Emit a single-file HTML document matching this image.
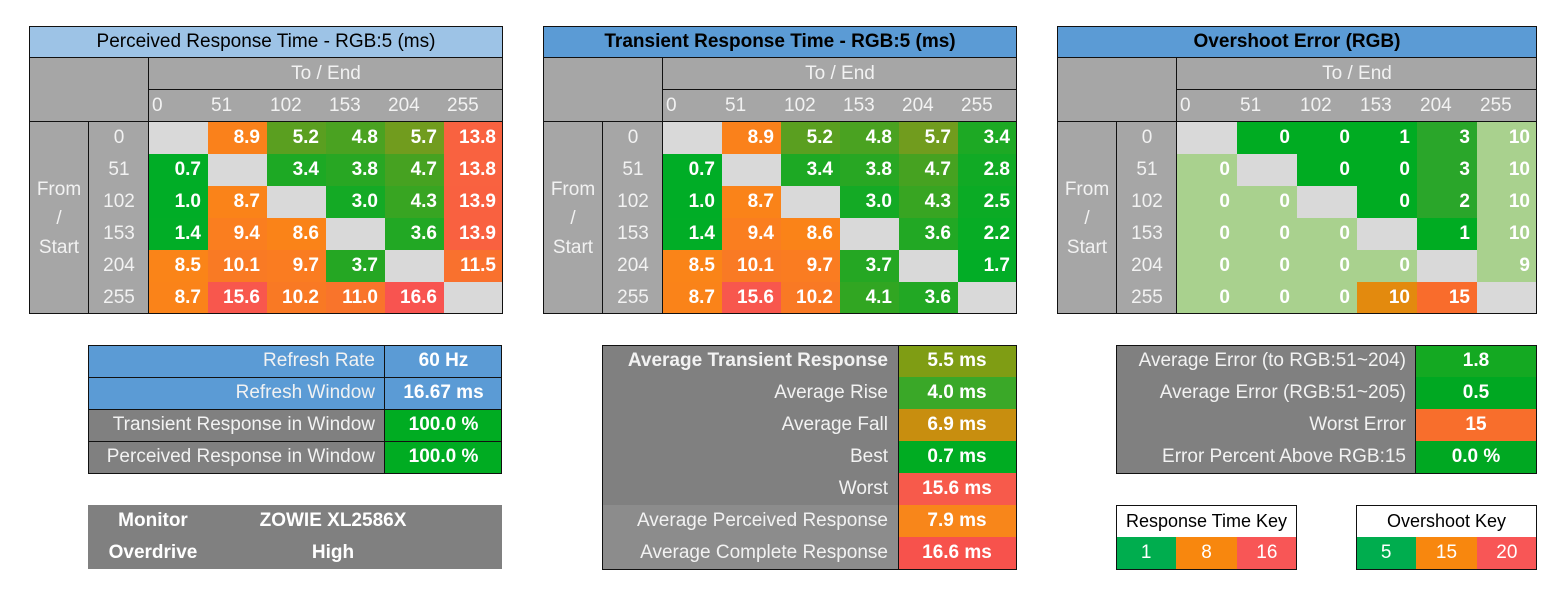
<!DOCTYPE html>
<html><head><meta charset="utf-8"><style>
body{margin:0;width:1563px;height:605px;background:#fff;position:relative;overflow:hidden;font-family:"Liberation Sans","Noto Sans CJK JP",sans-serif;}
.c{position:absolute;box-sizing:border-box;display:flex;align-items:center;font-size:18px;white-space:nowrap;}
.box{position:absolute;box-sizing:border-box;border:1px solid #111;pointer-events:none;}
</style></head><body>
<script>
const fromLabels=["0","51","102","153","204","255"];
const toLabels=["0","51","102","153","204","255"];
const perceived=[[null,8.9,5.2,4.8,5.7,13.8],[0.7,null,3.4,3.8,4.7,13.8],[1.0,8.7,null,3.0,4.3,13.9],[1.4,9.4,8.6,null,3.6,13.9],[8.5,10.1,9.7,3.7,null,11.5],[8.7,15.6,10.2,11.0,16.6,null]];
const transient=[[null,8.9,5.2,4.8,5.7,3.4],[0.7,null,3.4,3.8,4.7,2.8],[1.0,8.7,null,3.0,4.3,2.5],[1.4,9.4,8.6,null,3.6,2.2],[8.5,10.1,9.7,3.7,null,1.7],[8.7,15.6,10.2,4.1,3.6,null]];
const overshoot=[[null,0,0,1,3,10],[0,null,0,0,3,10],[0,0,null,0,2,10],[0,0,0,null,1,10],[0,0,0,0,null,9],[0,0,0,10,15,null]];
const titles=["Perceived Response Time - RGB:5 (ms)","Transient Response Time - RGB:5 (ms)","Overshoot Error (RGB)"];

function lerp(a,b,t){return a.map((v,i)=>Math.round(v+(b[i]-v)*t));}
function rtColor(v){const g=[0,173,38],o=[250,135,20],r=[248,84,80];
 if(v<=1)return 'rgb('+g+')';if(v<=8)return 'rgb('+lerp(g,o,Math.pow((v-1)/7,2))+')';
 if(v<=16)return 'rgb('+lerp(o,r,(v-8)/8)+')';return 'rgb('+r+')';}
function osColor(v,r,c){
 if(v>=15)return '#f96c2c';
 if(v>=10&&r>c)return '#e38a0e';
 if(c===5||r>c)return '#a9d18e';
 if(v>=2)return '#2aa62a';return '#00ac22';}
function cell(x,y,w,h,txt,bg,color,opts,name){
 const d=document.createElement('div');d.className='c';
 d.style.left=x+'px';d.style.top=y+'px';d.style.width=w+'px';d.style.height=h+'px';
 d.style.background=bg;d.style.color=color;
 opts=opts||{};
 d.style.justifyContent=opts.j||'center';
 if(opts.bold)d.style.fontWeight='bold';
 if(opts.pad)d.style.padding=opts.pad;
 if(opts.fs)d.style.fontSize=opts.fs;
 if(opts.lh){d.style.lineHeight=opts.lh;d.style.textAlign='center';}
 d.innerHTML=txt;
 
 
 document.body.appendChild(d);return d;}
function box(x,y,w,h,name){const d=document.createElement('div');d.className='box';
 d.style.left=x+'px';d.style.top=y+'px';d.style.width=w+'px';d.style.height=h+'px';
 
 
 document.body.appendChild(d);}
function line(x,y,w,h,name){const d=document.createElement('div');d.style.position='absolute';
 d.style.left=x+'px';d.style.top=y+'px';d.style.width=w+'px';d.style.height=h+'px';d.style.background='#111';
 
 
 document.body.appendChild(d);}

const mats=[perceived,transient,overshoot];
const X0=[29,543,1057];
mats.forEach((m,k)=>{
 const x0=X0[k],W=k===2?480:474,cw=(W-120)/6;
 const gray='#a6a6a6',tc='#f2f2f2';
 cell(x0,26,W,32,titles[k],k===0?'#9dc3e6':'#5b9bd5','#000',{bold:k>0,fs:'19px'},'heatmap-title');
 cell(x0,58,120,64,'',gray,tc,{},'corner-cell');
 cell(x0+120,58,W-120,32,'To / End',gray,tc,{fs:'19px'},'to-end-header');
 toLabels.forEach((t,i)=>cell(x0+120+i*cw,90,cw,32,t,gray,tc,{j:'flex-start',pad:'0 0 0 3px',fs:'19px'},'column-label'));
 cell(x0,122,60,192,'From<br>/<br>Start',gray,tc,{lh:'29px',fs:'19px'},'from-start-header');
 fromLabels.forEach((t,r)=>cell(x0+60,122+r*32,60,32,t,gray,tc,{fs:'19px'},'row-label'));
 m.forEach((row,r)=>row.forEach((v,c)=>{
  const x=x0+120+c*cw,y=122+r*32;
  if(v===null){cell(x,y,cw,32,'','#d9d9d9','#fff',{},'diagonal-cell');return;}
  const bg=k===2?osColor(v,r,c):rtColor(v);
  cell(x,y,cw,32,k===2?String(v):v.toFixed(1),bg,'#fff',{bold:true,j:'flex-end',pad:'0 7px 0 0',fs:'19px'},'heat-cell');
 }));
 box(x0,26,W,288,'heatmap-border');
 line(x0,57,W,1,'grid-line');line(x0+120,89,W-120,1,'grid-line');line(x0,121,W,1,'grid-line');
 line(x0+119,57,1,257,'grid-line');line(x0+59,121,1,193,'grid-line');
});

// left summary
const leftRows=[["Refresh Rate","60 Hz","#5b9bd5","#5b9bd5"],["Refresh Window","16.67 ms","#5b9bd5","#5b9bd5"],["Transient Response in Window","100.0 %","#808080","#00ac22"],["Perceived Response in Window","100.0 %","#808080","#00ac22"]];
leftRows.forEach((r,i)=>{cell(88,345+i*32,297,32,r[0],r[2],'#f2f2f2',{j:'flex-end',pad:'0 10px 0 0',fs:'19px'},'summary-label');
 cell(385,345+i*32,117,32,r[1],r[3],'#fff',{bold:true,fs:'19px'},'summary-value');
 if(i>0)line(88,345+i*32,414,1,'row-line');});
box(88,345,414,129,'summary-border');line(384,345,1,129,'col-line');
cell(88,505,414,64,'','#808080','#fff',{},'monitor-box');
cell(88,505,130,32,'Monitor','transparent','#fff',{bold:true,fs:'19px'},'monitor-label');
cell(218,505,230,32,'ZOWIE XL2586X','transparent','#fff',{bold:true,fs:'19px'},'monitor-value');
cell(88,537,130,32,'Overdrive','transparent','#fff',{bold:true,fs:'19px'},'overdrive-label');
cell(218,537,230,32,'High','transparent','#fff',{bold:true,fs:'19px'},'overdrive-value');

// middle summary
const midLabels=["Average Transient Response","Average Rise","Average Fall","Best","Worst","Average Perceived Response","Average Complete Response"];
const midValues=["5.5 ms","4.0 ms","6.9 ms","0.7 ms","15.6 ms","7.9 ms","16.6 ms"];
const midColors=["#7f9d14","#3aa828","#c88e0f","#00ac22","#f75a4b","#f8861a","#f7524c"];
midLabels.forEach((l,i)=>{cell(602,345+i*32,296,32,l,i>=5?'#8c8c8c':'#808080','#f2f2f2',{j:'flex-end',pad:'0 10px 0 0',bold:i===0,fs:'19px'},'average-label');
 cell(898,345+i*32,118,32,midValues[i],midColors[i],'#fff',{bold:true,fs:'19px'},'average-value');});
box(602,345,415,225,'average-border');line(898,345,1,225,'col-line');

// right summary
const rLabels=["Average Error (to RGB:51~204)","Average Error (RGB:51~205)","Worst Error","Error Percent Above RGB:15"];
const rValues=["1.8","0.5","15","0.0 %"];
const rColors=["#14a922","#00a822","#f86e2c","#00a822"];
rLabels.forEach((l,i)=>{cell(1116,345+i*32,300,32,l,'#808080','#f2f2f2',{j:'flex-end',pad:'0 10px 0 0',fs:'19px'},'error-label');
 cell(1416,345+i*32,120,32,rValues[i],rColors[i],'#fff',{bold:true,fs:'19px'},'error-value');});
box(1116,345,421,129,'error-border');line(1415,345,1,129,'col-line');

// keys
const rtKeyVals=["1","8","16"],keyColors=["#00ad4e","#f8870e","#f85656"],osKeyVals=["5","15","20"];
function key(x,w,title,vals,nm){cell(x,505,w,32,title,'#fff','#000',{fs:'18px'},nm+'-title');
 const cw=w/3;vals.forEach((v,i)=>cell(x+i*cw,537,cw,32,v,keyColors[i],'#fff',{fs:'19px'},nm+'-swatch'));
 box(x,505,w,65,nm+'-border');}
key(1116,181,'Response Time Key',rtKeyVals,'response-key');
key(1356,181,'Overshoot Key',osKeyVals,'overshoot-key');
</script>
</body></html>
